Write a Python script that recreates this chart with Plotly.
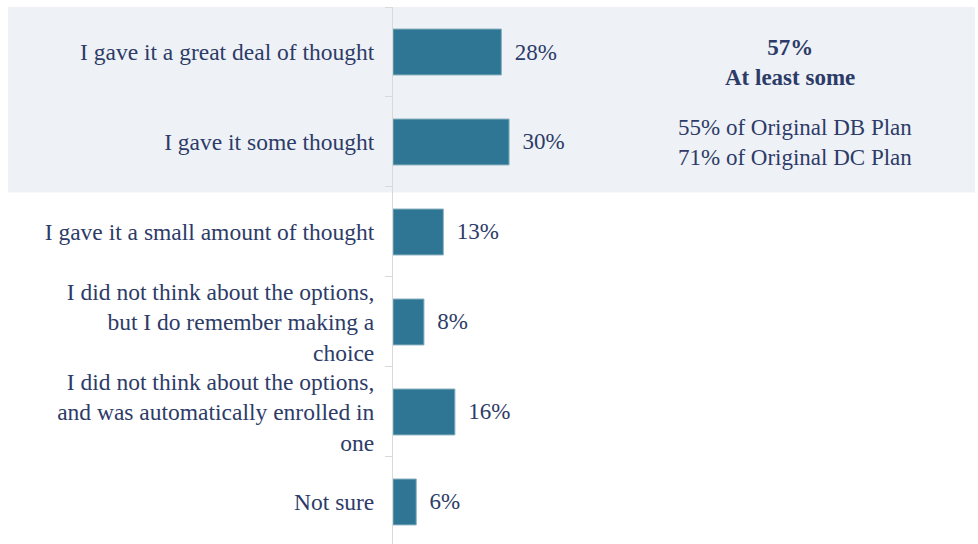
import plotly.graph_objects as go

categories = [
    "I gave it a great deal of thought",
    "I gave it some thought",
    "I gave it a small amount of thought",
    "I did not think about the options,<br>but I do remember making a<br>choice",
    "I did not think about the options,<br>and was automatically enrolled in<br>one",
    "Not sure",
]
values = [28, 30, 13, 8, 16, 6]

summary_main = ["57%", "At least some"]
summary_sub = ["55% of Original DB Plan", "71% of Original DC Plan"]

TEXT = "#2d3b68"
FONT = "Liberation Serif, Times New Roman, serif"

fig = go.Figure(
    go.Bar(
        x=values,
        y=categories,
        orientation="h",
        marker=dict(color="#2e7693", line=dict(color="#86aebf", width=1)),
        text=[f"{v}%" for v in values],
        texttemplate="\u00a0\u2009%{text}",
        textposition="outside",
        textfont=dict(family=FONT, size=23, color=TEXT),
        cliponaxis=False,
        hoverinfo="skip",
    )
)

fig.add_shape(
    type="rect", layer="below",
    xref="paper", yref="y",
    x0=-0.658, x1=0.995, y0=-0.56, y1=1.56,
    fillcolor="#eef2f6", line=dict(width=0),
)

fig.add_annotation(
    xref="paper", yref="paper", x=0.679, y=0.8966,
    text="<b>" + summary_main[0] + "</b><br><b>" + summary_main[1] + "</b>",
    showarrow=False, font=dict(family=FONT, size=23, color=TEXT),
    align="center", xanchor="center", yanchor="middle",
)
fig.add_annotation(
    xref="paper", yref="paper", x=0.687, y=0.747,
    text="<br>".join(summary_sub),
    showarrow=False, font=dict(family=FONT, size=23, color=TEXT),
    align="center", xanchor="center", yanchor="middle",
)

fig.update_layout(
    width=978, height=544,
    margin=dict(l=393, r=0, t=7, b=0),
    paper_bgcolor="white", plot_bgcolor="rgba(0,0,0,0)",
    bargap=0.49,
    showlegend=False,
    font=dict(family=FONT, size=23, color=TEXT),
)
fig.update_xaxes(
    range=[0, 151.2], visible=False, showgrid=False, zeroline=False,
)
fig.update_yaxes(
    type="category",
    categoryorder="array", categoryarray=categories,
    range=[5.467, -0.5],
    showline=True, linecolor="#d9d9d9", linewidth=1,
    ticks="outside", tickson="boundaries", ticklen=7, tickcolor="#d9d9d9",
    ticklabelstandoff=13,
    showgrid=False, zeroline=False,
    tickfont=dict(family=FONT, size=23.5, color=TEXT),
)

fig.write_html("out.html")
